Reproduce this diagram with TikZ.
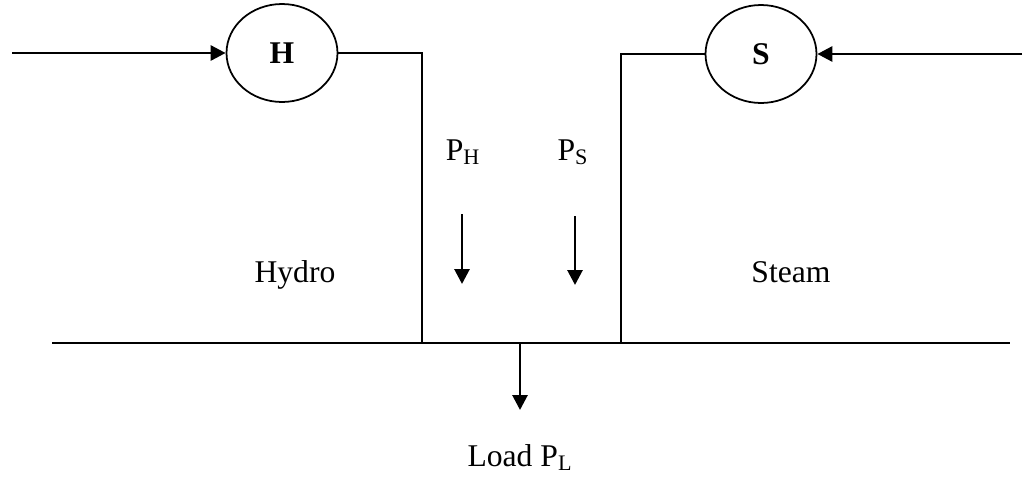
\documentclass[tikz,border=0pt]{standalone}
\usepackage{fontspec}
\setmainfont{Liberation Serif}
\usetikzlibrary{shapes.geometric, arrows.meta, positioning}
\tikzset{
  gen/.style={
    ellipse, draw, line width=1pt, minimum width=2.22cm, minimum height=1.96cm,
    inner sep=0pt, font=\fontsize{18}{22}\selectfont\bfseries
  },
  wire/.style={line width=1pt},
  flow/.style={-{Triangle[length=0.3cm, width=0.3cm]}, line width=1.6pt},
  txt/.style={font=\fontsize{18}{22}\selectfont, inner sep=0pt, anchor=base}
}
\begin{document}
\begin{tikzpicture}[x=0.02cm, y=-0.02cm]
    \useasboundingbox (0,0) rectangle (1030,477);
    % generators
    \node[gen] (hyd) at (282,53) {H};
    \node[gen] (stm) at (761,54) {S};

    % fixed points
    \coordinate (hin)  at (12,53);
    \coordinate (sin)  at (1022,54);
    \coordinate (hbus) at (422,343);
    \coordinate (sbus) at (621,343);
    \coordinate (busl) at (52,343);
    \coordinate (busr) at (1010,343);
    \coordinate (ldt)  at (520,343);
    \coordinate (ldb)  at (520,410);
    \coordinate (pht)  at (462,214);
    \coordinate (phb)  at (462,284);
    \coordinate (pst)  at (575,216);
    \coordinate (psb)  at (575,285);

    % labels
    \node[txt] (ph)   at (463,160) {P\textsubscript{H}};
    \node[txt] (ps)   at (573,160) {P\textsubscript{S}};
    \node[txt] (hlab) at (295,282) {Hydro};
    \node[txt] (slab) at (791,282) {Steam};
    \node[txt] (load) at (520,466) {Load P\textsubscript{L}};

    % connections
    \draw[flow] (hin) -- (hyd.west);
    \draw[flow] (sin) -- (stm.east);
    \draw[wire] (hyd.east) -| (hbus);
    \draw[wire] (stm.west) -| (sbus);
    \draw[wire] (busl) -- (busr);
    \draw[flow] (pht) -- (phb);
    \draw[flow] (pst) -- (psb);
    \draw[flow] (ldt) -- (ldb);
\end{tikzpicture}
\end{document}
